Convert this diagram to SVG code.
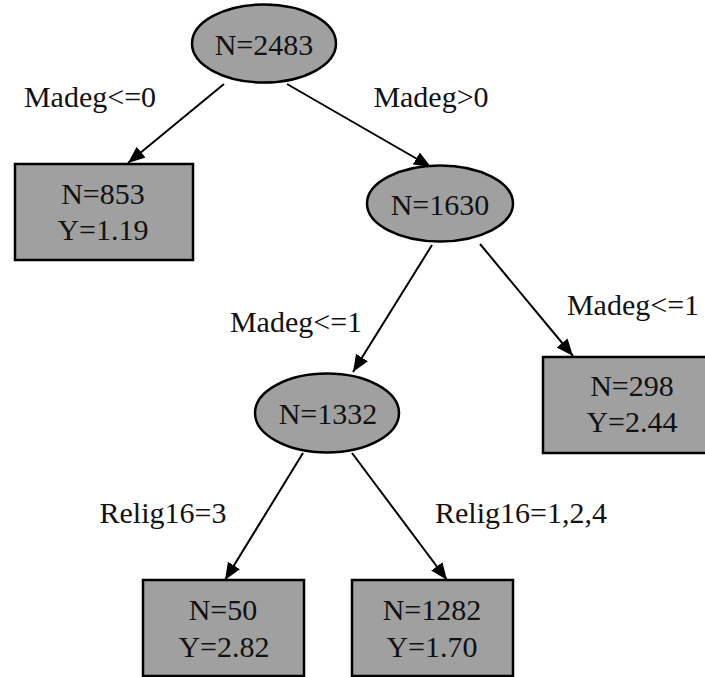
<svg xmlns="http://www.w3.org/2000/svg" width="705" height="677" viewBox="0 0 705 677">
  <style>
    text { font-family: 'Liberation Serif', 'DejaVu Serif', serif; font-size: 30px; fill: #111; text-anchor: middle; }
    .node { fill: #a0a0a0; stroke: #000; stroke-width: 2.5; }
    .edge { fill: none; stroke: #000; stroke-width: 2; marker-end: url(#arrow); }
  </style>
  <defs>
    <marker id="arrow" markerUnits="userSpaceOnUse" markerWidth="20" markerHeight="16" refX="17" refY="7" orient="auto">
      <path d="M0,0 L17,7 L0,14 Z" fill="#000"/>
    </marker>
  </defs>
  <rect width="705" height="677" fill="#fff"/>

  <g font-family="Liberation Serif, DejaVu Serif, serif">
  <!-- connectors -->
  <g id="edges">
    <line class="edge" x1="224" y1="84" x2="128" y2="163"/>
    <line class="edge" x1="287" y1="84" x2="431" y2="167"/>
    <line class="edge" x1="432" y1="245" x2="353" y2="372"/>
    <line class="edge" x1="480" y1="244" x2="573" y2="356"/>
    <line class="edge" x1="303" y1="453" x2="225" y2="580"/>
    <line class="edge" x1="352" y1="453" x2="447" y2="580"/>
    <text x="90" y="107">Madeg&lt;=0</text>
    <text x="431" y="107">Madeg&gt;0</text>
    <text x="296" y="332">Madeg&lt;=1</text>
    <text x="633" y="315">Madeg&lt;=1</text>
    <text x="163" y="523">Relig16=3</text>
    <text x="521" y="523">Relig16=1,2,4</text>
  </g>

  <!-- split nodes -->
  <g id="n2483">
    <ellipse class="node" cx="264" cy="43.5" rx="72" ry="39"/>
    <text x="264" y="55">N=2483</text>
  </g>
  <g id="n1630">
    <ellipse class="node" cx="440" cy="203.5" rx="73" ry="38"/>
    <text x="440" y="215">N=1630</text>
  </g>
  <g id="n1332">
    <ellipse class="node" cx="327" cy="413" rx="72" ry="39.5"/>
    <text x="328" y="424">N=1332</text>
  </g>

  <!-- leaf nodes -->
  <g id="n853">
    <rect class="node" x="15" y="164" width="178" height="96"/>
    <text x="103" y="204">N=853</text>
    <text x="103" y="240">Y=1.19</text>
  </g>
  <g id="n298">
    <rect class="node" x="543" y="357" width="178" height="96"/>
    <text x="632" y="396">N=298</text>
    <text x="632" y="432">Y=2.44</text>
  </g>
  <g id="n50">
    <rect class="node" x="143" y="580" width="161" height="96"/>
    <text x="223" y="620">N=50</text>
    <text x="224" y="657">Y=2.82</text>
  </g>
  <g id="n1282">
    <rect class="node" x="352" y="580" width="161" height="96"/>
    <text x="432" y="620">N=1282</text>
    <text x="432" y="657">Y=1.70</text>
  </g>
  </g>
</svg>
